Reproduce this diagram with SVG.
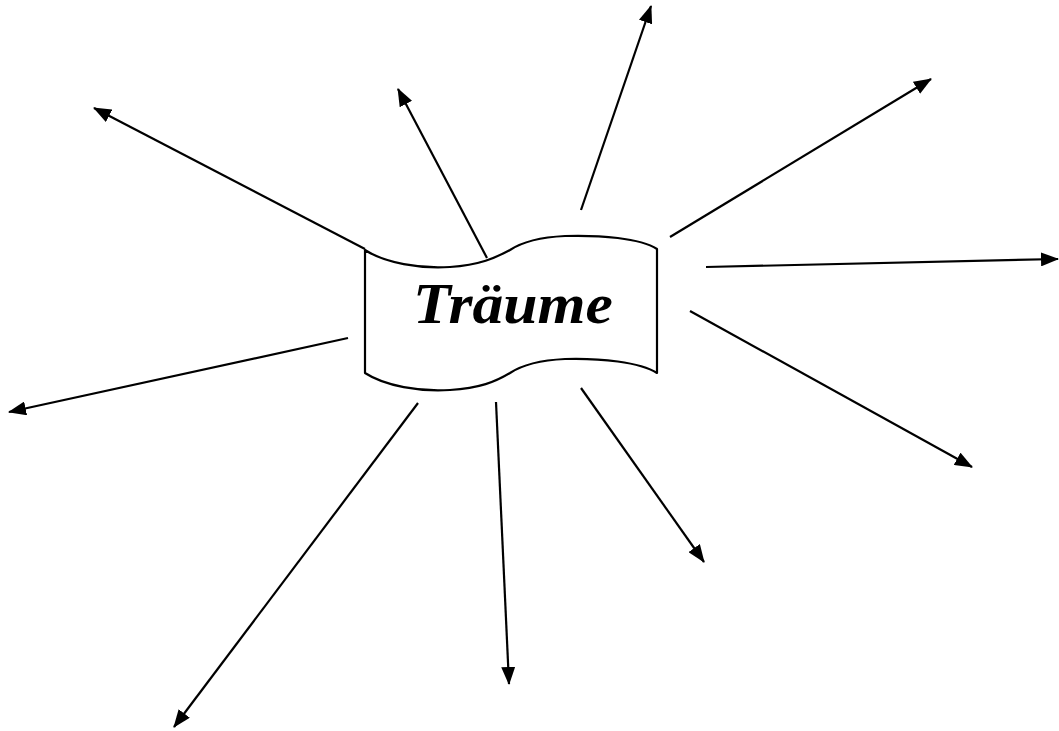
<svg xmlns="http://www.w3.org/2000/svg" width="1059" height="731" viewBox="0 0 1059 731">
<style>
.c line{stroke:#000;stroke-width:2.2;marker-end:url(#ah)}
.banner{fill:#fff;stroke:#000;stroke-width:2.2;stroke-linejoin:round}
.lbl{font-family:"Liberation Serif",serif;font-style:italic;font-weight:bold;font-size:56px;fill:#000}
</style>
<defs>
<marker id="ah" markerUnits="userSpaceOnUse" markerWidth="18" markerHeight="14" refX="17" refY="7" orient="auto">
<path d="M0,0 L18,7 L0,14 Z" fill="#000"/>
</marker>
</defs>
<rect width="1059" height="731" fill="#fff"/>
<g id="connectors" class="c">
<line x1="365" y1="249" x2="94" y2="108"/>
<line x1="487" y1="258" x2="398" y2="89"/>
<line x1="581" y1="210" x2="651" y2="6"/>
<line x1="670" y1="237" x2="931" y2="79"/>
<line x1="706" y1="267" x2="1058" y2="259"/>
<line x1="690" y1="311" x2="972" y2="467"/>
<line x1="581" y1="388" x2="704" y2="562"/>
<line x1="496" y1="402" x2="509" y2="684"/>
<line x1="418" y1="403" x2="174" y2="727"/>
<line x1="348" y1="338" x2="9" y2="412"/>
</g>
<g id="node-traeume">
<path class="banner" d="M365,250 C385,263 420,269 450,267 C480,265 495,258 510,250 C525,240 545,237 565,236 C600,235 640,238 657,249 L657,373 C640,362 600,358 565,359 C545,360 525,363 510,373 C495,382 480,388 450,390 C420,392 385,386 365,373 Z"/>
<text class="lbl" x="513" y="323" text-anchor="middle" textLength="200" lengthAdjust="spacingAndGlyphs">Träume</text>
</g>
</svg>
